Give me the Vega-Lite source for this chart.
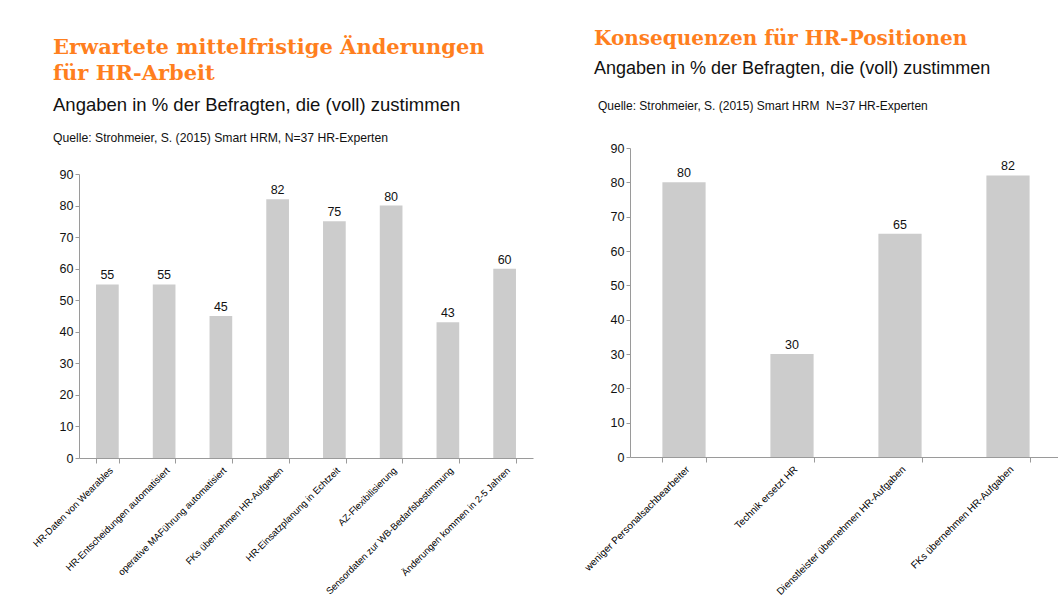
{
  "$schema": "https://vega.github.io/schema/vega-lite/v6.json",
  "background": "white",
  "padding": {"left": 30, "top": 29, "right": 0, "bottom": 0},
  "spacing": 49,
  "datasets": {
    "links": [
      {"kategorie": "HR-Daten von Wearables", "wert": 55},
      {"kategorie": "HR-Entscheidungen automatisiert", "wert": 55},
      {"kategorie": "operative MAFührung automatisiert", "wert": 45},
      {"kategorie": "FKs übernehmen HR-Aufgaben", "wert": 82},
      {"kategorie": "HR-Einsatzplanung in Echtzeit", "wert": 75},
      {"kategorie": "AZ-Flexibilisierung", "wert": 80},
      {"kategorie": "Sensordaten zur WB-Bedarfsbestimmung", "wert": 43},
      {"kategorie": "Änderungen kommen in 2-5 Jahren", "wert": 60}
    ],
    "rechts": [
      {"kategorie": "weniger Personalsachbearbeiter", "wert": 80},
      {"kategorie": "Technik ersetzt HR", "wert": 30},
      {"kategorie": "Dienstleister übernehmen HR-Aufgaben", "wert": 65},
      {"kategorie": "FKs übernehmen HR-Aufgaben", "wert": 82}
    ],
    "leer": [{"leer": ""}]
  },
  "config": {
    "view": {"stroke": null},
    "axis": {
      "grid": false,
      "domainColor": "#9a9a9a",
      "tickColor": "#9a9a9a",
      "labelColor": "#111111",
      "labelFont": "Liberation Sans",
      "title": null
    },
    "axisX": {"labelColor": "#000000"},
    "title": {"anchor": "start", "frame": "group"}
  },
  "hconcat": [
    {
      "title": {
        "text": ["Erwartete mittelfristige Änderungen", "für HR-Arbeit"],
        "subtitle": "Angaben in % der Befragten, die (voll) zustimmen",
        "font": "DejaVu Serif",
        "fontSize": 21,
        "fontWeight": "bold",
        "color": "#FF7F1E",
        "lineHeight": 26,
        "subtitleFont": "Liberation Sans",
        "subtitleFontSize": 18.5,
        "subtitleColor": "#111111",
        "subtitlePadding": 12,
        "offset": 17,
        "dx": -26
      },
      "spacing": 0,
      "vconcat": [
        {
          "title": {
            "text": "Quelle: Strohmeier, S. (2015) Smart HRM, N=37 HR-Experten",
            "font": "Liberation Sans",
            "fontSize": 12.2,
            "fontWeight": "normal",
            "color": "#111111",
            "offset": 4,
            "dx": -26
          },
          "width": 454,
          "height": 20,
          "data": {"name": "leer"},
          "mark": {"type": "text"},
          "encoding": {"text": {"field": "leer", "type": "nominal"}}
        },
        {
          "width": 454,
          "height": 284,
          "data": {"name": "links"},
          "encoding": {
            "x": {
              "field": "kategorie",
              "type": "nominal",
              "sort": null,
              "scale": {"paddingInner": 0.6, "paddingOuter": 0.3},
              "axis": {"labelAngle": -45, "labelFontSize": 9.5, "tickBand": "extent", "tickSize": 5, "labelPadding": 2}
            },
            "y": {
              "field": "wert",
              "type": "quantitative",
              "scale": {"domain": [0, 90]},
              "axis": {"values": [0, 10, 20, 30, 40, 50, 60, 70, 80, 90], "labelFontSize": 12.5, "tickSize": 4}
            }
          },
          "layer": [
            {"mark": {"type": "bar", "color": "#cccccc"}},
            {
              "mark": {"type": "text", "dy": -9, "fontSize": 12.5, "font": "Liberation Sans", "color": "#111111"},
              "encoding": {"text": {"field": "wert", "type": "quantitative"}}
            }
          ]
        }
      ]
    },
    {
      "title": {
        "text": "Konsequenzen für HR-Positionen",
        "subtitle": "Angaben in % der Befragten, die (voll) zustimmen",
        "font": "DejaVu Serif",
        "fontSize": 20,
        "fontWeight": "bold",
        "color": "#FF7F1E",
        "subtitleFont": "Liberation Sans",
        "subtitleFontSize": 18,
        "subtitleColor": "#111111",
        "subtitlePadding": 11,
        "offset": 22,
        "dx": -36
      },
      "vconcat": [
        {
          "title": {
            "text": "Quelle: Strohmeier, S. (2015) Smart HRM \u00a0N=37 HR-Experten",
            "font": "Liberation Sans",
            "fontSize": 12,
            "fontWeight": "normal",
            "color": "#111111",
            "offset": 29,
            "dx": -32
          },
          "width": 432,
          "height": 309,
          "data": {"name": "rechts"},
          "encoding": {
            "x": {
              "field": "kategorie",
              "type": "nominal",
              "sort": null,
              "scale": {"paddingInner": 0.6, "paddingOuter": 0.3},
              "axis": {"labelAngle": -45, "labelFontSize": 10, "tickBand": "extent", "tickSize": 5, "labelPadding": 2}
            },
            "y": {
              "field": "wert",
              "type": "quantitative",
              "scale": {"domain": [0, 90]},
              "axis": {"values": [0, 10, 20, 30, 40, 50, 60, 70, 80, 90], "labelFontSize": 12.5, "tickSize": 4}
            }
          },
          "layer": [
            {"mark": {"type": "bar", "color": "#cccccc"}},
            {
              "mark": {"type": "text", "dy": -9, "fontSize": 12.5, "font": "Liberation Sans", "color": "#111111"},
              "encoding": {"text": {"field": "wert", "type": "quantitative"}}
            }
          ]
        }
      ]
    }
  ]
}
